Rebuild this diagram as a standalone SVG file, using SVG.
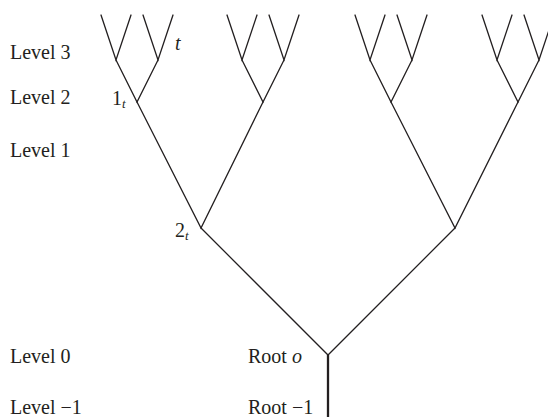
<svg xmlns="http://www.w3.org/2000/svg" width="548" height="417" viewBox="0 0 548 417">
<style>
text{font-family:"Liberation Serif","DejaVu Serif",serif;font-size:20px;fill:#231f20}
.it{font-style:italic}
.sub{font-size:13px;font-style:italic}
.e{stroke:#231f20;stroke-width:1.3;fill:none;stroke-linecap:round}
.trunk{stroke:#231f20;stroke-width:2.3;fill:none}
</style>
<rect width="548" height="417" fill="#fff"/>
<g id="levels">
<text x="10" y="59">Level 3</text>
<text x="10" y="104">Level 2</text>
<text x="10" y="157">Level 1</text>
<text x="10" y="363">Level 0</text>
<text x="10" y="414">Level −1</text>
</g>
<g id="connectors">
<line class="trunk" x1="328" y1="355" x2="328" y2="417"/>
<path class="e" d="M201,228 L328,355 L455,228"/>
<path class="e" d="M137,102 L201,228 L263,102"/>
<path class="e" d="M391,102 L455,228 L518,102"/>
<path class="e" d="M116,60 L137,102 L158,60"/>
<path class="e" d="M242,60 L263,102 L284,60"/>
<path class="e" d="M370,60 L391,102 L412,60"/>
<path class="e" d="M497,60 L518,102 L539,60"/>
<path class="e" d="M101,15 L116,60 L131,15"/>
<path class="e" d="M143,15 L158,60 L173,15"/>
<path class="e" d="M227,15 L242,60 L257,15"/>
<path class="e" d="M269,15 L284,60 L299,15"/>
<path class="e" d="M355,15 L370,60 L385,15"/>
<path class="e" d="M397,15 L412,60 L427,15"/>
<path class="e" d="M482,15 L497,60 L512,15"/>
<path class="e" d="M524,15 L539,60 L554,15"/>
</g>
<g id="root-minus1"><text x="248" y="414">Root −1</text></g>
<g id="root-o"><text x="248" y="363">Root <tspan class="it">o</tspan></text></g>
<g id="node-2t"><text x="175" y="237">2<tspan class="sub" dy="3">t</tspan></text></g>
<g id="node-1t"><text x="112" y="105">1<tspan class="sub" dy="3">t</tspan></text></g>
<g id="leaf-t"><text class="it" x="175" y="50">t</text></g>
</svg>
